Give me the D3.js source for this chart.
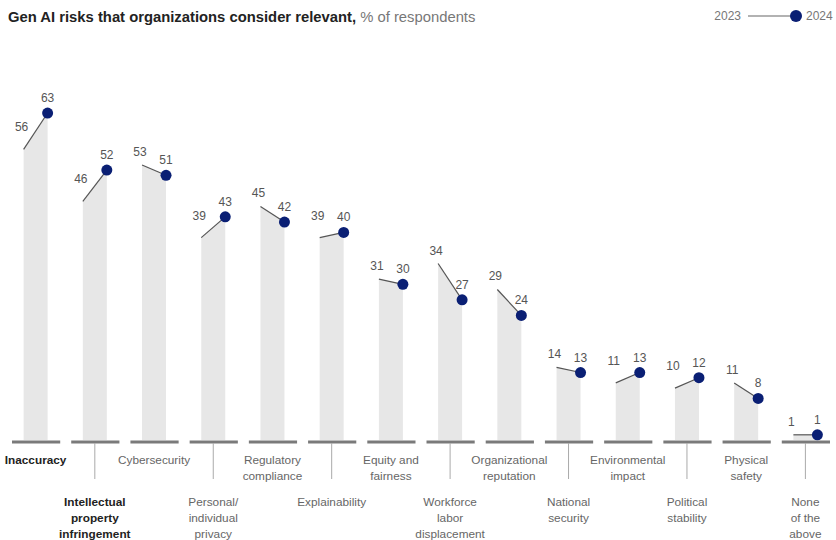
<!DOCTYPE html>
<html><head><meta charset="utf-8">
<script src="https://cdn.jsdelivr.net/npm/d3@7"></script>
<style>
body{margin:0;background:#fff;}
svg{display:block;font-family:"Liberation Sans",Arial,sans-serif;}
</style></head>
<body>
<svg id="chart" width="836" height="540"></svg>
<script>
const categories = [
  ["Inaccuracy"],
  ["Intellectual","property","infringement"],
  ["Cybersecurity"],
  ["Personal/","individual","privacy"],
  ["Regulatory","compliance"],
  ["Explainability"],
  ["Equity and","fairness"],
  ["Workforce","labor","displacement"],
  ["Organizational","reputation"],
  ["National","security"],
  ["Environmental","impact"],
  ["Political","stability"],
  ["Physical","safety"],
  ["None","of the","above"]
];
const boldCats = [0, 1];
const values2023 = [56, 46, 53, 39, 45, 39, 31, 34, 29, 14, 11, 10, 11, 1];
const values2024 = [63, 52, 51, 43, 42, 40, 30, 27, 24, 13, 13, 12, 8, 1];
const years = ["2023", "2024"];

const svg = d3.select("#chart");
const keys = categories.map((c, i) => i);
const x = d3.scaleBand().domain(keys).range([6, 835]).paddingInner(0);
const y = d3.scaleLinear().domain([0, 70]).range([440, 440 - 70 * 5.19]);
const cx = i => x(i) + x.bandwidth() / 2;
const half = 12;
const navy = "#0a1f74";

// title
const title = svg.append("text").attr("x", 8).attr("y", 22).attr("font-size", 14.8);
title.append("tspan").attr("font-weight", "bold").attr("fill", "#222").text("Gen AI risks that organizations consider relevant,");
title.append("tspan").attr("fill", "#777").text(" % of respondents");

// legend
const lg = svg.append("g");
lg.append("text").attr("x", 741).attr("y", 20).attr("text-anchor", "end").attr("font-size", 12).attr("fill", "#777").text(years[0]);
lg.append("line").attr("x1", 748).attr("x2", 795).attr("y1", 16).attr("y2", 16).attr("stroke", "#999").attr("stroke-width", 1.5);
lg.append("circle").attr("cx", 796).attr("cy", 16).attr("r", 6).attr("fill", navy);
lg.append("text").attr("x", 806).attr("y", 20).attr("font-size", 12).attr("fill", "#777").text(years[1]);

const g = svg.append("g");
const items = keys.map(i => ({i, a: values2023[i], b: values2024[i]}));

// bars (trapezoid following slope)
g.selectAll("path.bar").data(items).join("path")
  .attr("class", "bar")
  .attr("fill", "#e7e7e7")
  .attr("d", d => `M${cx(d.i)-half},${y(0)}L${cx(d.i)-half},${y(d.a)}L${cx(d.i)+half},${y(d.b)}L${cx(d.i)+half},${y(0)}Z`);

// baseline segments
g.selectAll("line.base").data(items).join("line")
  .attr("x1", d => x(d.i) + 6).attr("x2", d => x(d.i) + x.bandwidth() - 5)
  .attr("y1", y(0) + 2).attr("y2", y(0) + 2)
  .attr("stroke", "#7a7a7a").attr("stroke-width", 3);

// slope lines
g.selectAll("line.slope").data(items).join("line")
  .attr("x1", d => cx(d.i) - half).attr("y1", d => y(d.a))
  .attr("x2", d => cx(d.i) + half).attr("y2", d => y(d.b))
  .attr("stroke", "#555").attr("stroke-width", 1.2);

// dots
g.selectAll("circle.dot").data(items).join("circle")
  .attr("cx", d => cx(d.i) + half).attr("cy", d => y(d.b)).attr("r", 5.5).attr("fill", navy);

// value labels
g.selectAll("text.v23").data(items).join("text")
  .attr("x", d => cx(d.i) - half - 2)
  .attr("y", d => y(d.a) - (d.b > d.a ? 22 : 13) + 4)
  .attr("text-anchor", "middle").attr("font-size", 12).attr("fill", "#555")
  .text(d => d.a);
g.selectAll("text.v24").data(items).join("text")
  .attr("x", d => cx(d.i) + half)
  .attr("y", d => y(d.b) - 15 + 4)
  .attr("text-anchor", "middle").attr("font-size", 12).attr("fill", "#555")
  .text(d => d.b);

// tick lines for lower labels
g.selectAll("line.tick").data(items.filter(d => d.i % 2 === 1)).join("line")
  .attr("x1", d => cx(d.i)).attr("x2", d => cx(d.i))
  .attr("y1", y(0) + 3).attr("y2", y(0) + 39)
  .attr("stroke", "#aaa").attr("stroke-width", 1);

// category labels
const lab = g.selectAll("text.cat").data(items).join("text")
  .attr("text-anchor", "middle").attr("font-size", 11.8)
  .attr("fill", d => boldCats.includes(d.i) ? "#222" : "#666")
  .attr("font-weight", d => boldCats.includes(d.i) ? "bold" : "normal");
lab.each(function(d){
  const t = d3.select(this);
  const y0 = d.i % 2 === 0 ? y(0) + 24 : y(0) + 66;
  categories[d.i].forEach((line, k) => {
    t.append("tspan").attr("x", cx(d.i)).attr("y", y0 + k * 15.8).text(line);
  });
});
</script>
</body></html>
